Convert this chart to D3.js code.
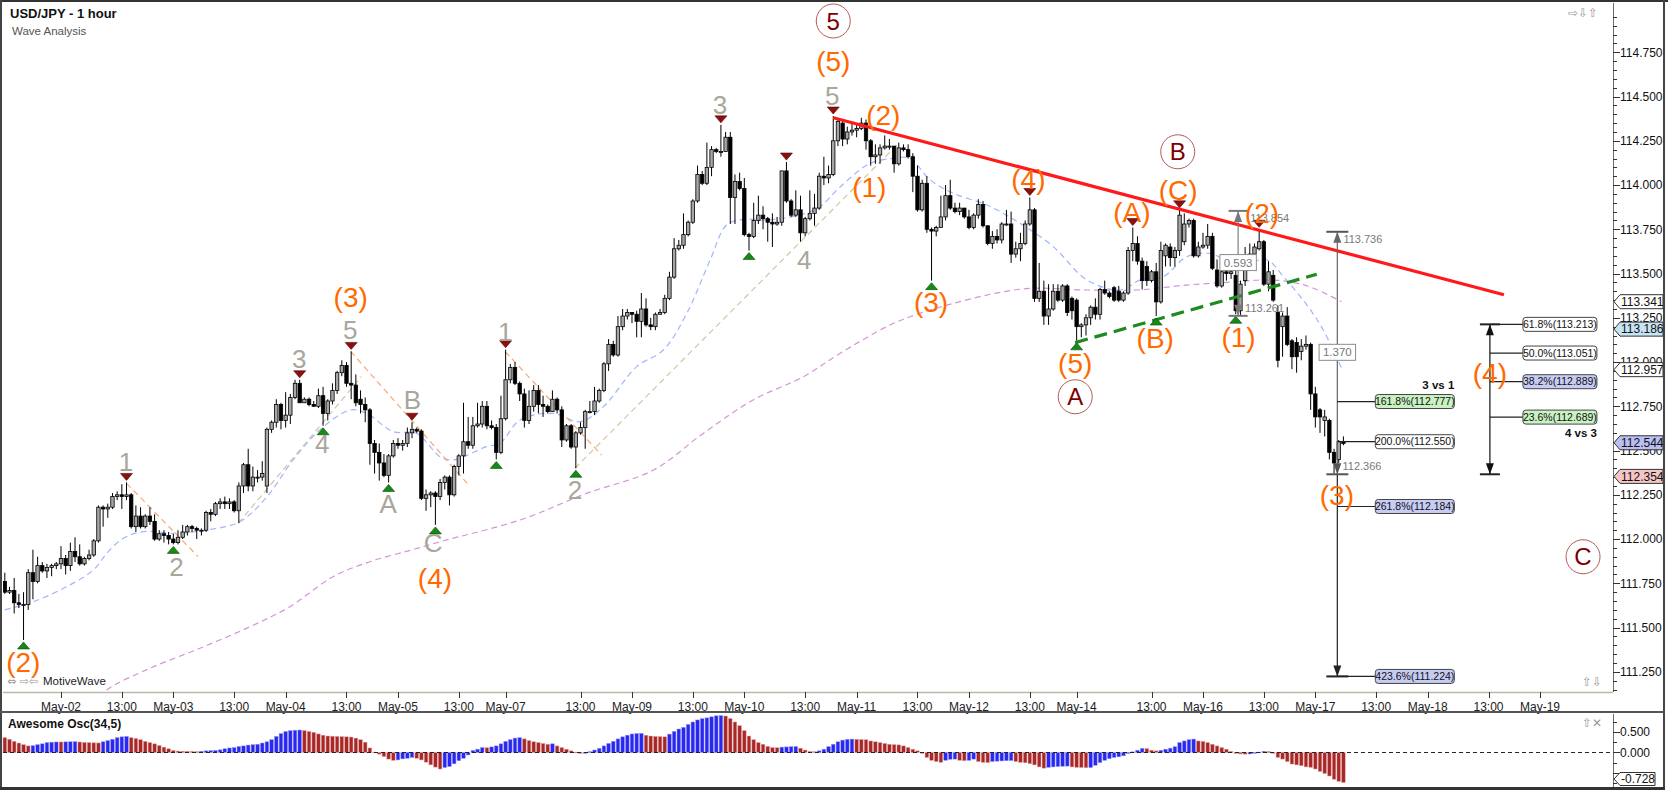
<!DOCTYPE html>
<html>
<head>
<meta charset="utf-8">
<script src="https://cdn.jsdelivr.net/npm/d3@7"></script>
<style>
body { margin: 0; background: #fff; }
svg { display: block; font-family: "Liberation Sans", Arial, sans-serif; }
</style>
</head>
<body>
<script>
/* hourly bars, index 0 = May-02 00:00, first bar is index -12 */
const firstBar = -12;
const opens = [
111.76,111.70,111.71,111.64,111.63,111.63,111.81,111.76,111.85,111.82,
111.84,111.85,111.86,111.89,111.85,111.93,111.90,111.86,111.89,111.91,
111.99,112.18,112.17,112.18,112.24,112.25,112.24,112.25,112.07,112.13,
112.07,112.13,112.10,112.00,112.03,112.02,112.00,111.98,112.01,112.04,
112.07,112.06,112.05,112.05,112.15,112.14,112.20,112.21,112.20,112.21,
112.16,112.30,112.42,112.30,112.35,112.35,112.30,112.62,112.66,112.76,
112.67,112.70,112.80,112.88,112.77,112.79,112.76,112.75,112.81,112.71,
112.78,112.84,112.94,112.98,112.88,112.87,112.79,112.76,112.73,112.54,
112.49,112.43,112.36,112.47,112.54,112.53,112.54,112.60,112.62,112.61,
112.23,112.25,112.26,112.24,112.32,112.35,112.25,112.41,112.47,112.55,
112.53,112.64,112.65,112.75,112.64,112.63,112.49,112.68,112.90,112.97,
112.88,112.82,112.67,112.75,112.84,112.76,112.75,112.72,112.79,112.73,
112.56,112.64,112.52,112.60,112.63,112.72,112.72,112.78,112.84,112.99,
113.10,113.04,113.20,113.26,113.28,113.27,113.23,113.30,113.21,113.20,
113.27,113.28,113.36,113.48,113.64,113.66,113.72,113.79,113.91,114.06,
114.01,114.10,114.20,114.19,114.19,114.27,113.93,114.02,113.98,113.72,
113.71,113.80,113.83,113.81,113.79,113.78,113.79,114.08,113.91,113.83,
113.86,113.73,113.81,113.84,113.87,114.05,114.04,114.06,114.25,114.35,
114.26,114.30,114.31,114.32,114.35,114.25,114.16,114.17,114.21,114.22,
114.22,114.12,114.21,114.20,114.16,114.05,113.86,114.01,113.75,113.74,
113.76,113.82,113.94,113.87,113.85,113.87,113.82,113.76,113.83,113.89,
113.77,113.67,113.71,113.69,113.78,113.78,113.61,113.64,113.67,113.78,
113.86,113.36,113.40,113.26,113.30,113.40,113.35,113.43,113.36,113.35,
113.20,113.21,113.25,113.31,113.27,113.41,113.39,113.42,113.40,113.35,
113.39,113.63,113.67,113.57,113.54,113.46,113.51,113.34,113.60,113.65,
113.59,113.63,113.68,113.78,113.80,113.60,113.65,113.66,113.71,113.52,
113.43,113.51,113.50,113.49,113.29,113.46,113.58,113.61,113.64,113.68,
113.44,113.49,113.28,113.20,113.26,113.12,113.11,113.06,113.09,113.10,
112.82,112.73,112.67,112.67,112.49,112.45,112.55];
const highs = [
111.81,111.73,111.78,111.69,111.70,111.83,111.94,111.90,111.87,111.86,
111.86,111.87,111.96,111.91,111.98,112.01,111.97,111.90,111.94,112.00,
112.19,112.19,112.20,112.26,112.27,112.31,112.32,112.26,112.19,112.18,
112.14,112.18,112.14,112.05,112.05,112.04,112.03,112.05,112.08,112.08,
112.08,112.07,112.06,112.16,112.17,112.21,112.23,112.24,112.23,112.22,
112.32,112.43,112.51,112.41,112.39,112.44,112.63,112.67,112.79,112.77,
112.83,112.82,112.90,112.90,112.80,112.80,112.78,112.85,112.86,112.79,
112.88,112.95,113.01,113.00,113.06,112.93,112.84,112.80,112.74,112.56,
112.54,112.48,112.48,112.56,112.57,112.56,112.63,112.66,112.63,112.62,
112.28,112.27,112.27,112.34,112.36,112.36,112.42,112.48,112.77,112.69,
112.69,112.77,112.78,112.78,112.67,112.65,112.81,113.07,112.99,113.00,
112.89,112.85,112.84,112.87,112.87,112.81,112.76,112.84,112.80,112.75,
112.65,112.65,112.61,112.66,112.73,112.78,112.86,112.85,113.00,113.13,
113.12,113.26,113.30,113.30,113.28,113.29,113.39,113.36,113.25,113.28,
113.30,113.38,113.51,113.70,113.69,113.84,113.80,113.92,114.11,114.08,
114.24,114.22,114.21,114.34,114.30,114.30,114.06,114.07,114.04,113.73,
113.90,113.94,113.88,113.82,113.84,113.82,114.08,114.13,113.92,113.97,
113.94,113.82,113.97,113.95,114.07,114.16,114.11,114.39,114.37,114.36,
114.33,114.35,114.35,114.38,114.37,114.26,114.23,114.23,114.28,114.26,
114.22,114.24,114.23,114.23,114.18,114.11,114.03,114.05,113.76,113.77,
113.94,114.00,114.03,113.90,113.90,113.87,113.86,113.84,113.92,113.91,
113.77,113.74,113.75,113.79,113.86,113.85,113.68,113.73,113.80,113.93,
113.87,113.56,113.46,113.44,113.44,113.44,113.44,113.44,113.37,113.36,
113.22,113.27,113.32,113.36,113.42,113.46,113.40,113.43,113.43,113.40,
113.65,113.76,113.71,113.59,113.57,113.52,113.56,113.68,113.67,113.67,
113.65,113.86,113.84,113.81,113.81,113.68,113.73,113.78,113.73,113.58,
113.52,113.58,113.55,113.58,113.46,113.65,113.67,113.67,113.75,113.69,
113.57,113.52,113.32,113.28,113.31,113.13,113.14,113.13,113.15,113.11,
112.86,112.74,112.73,112.68,112.51,112.56,112.58];
const lows = [
111.69,111.69,111.58,111.61,111.43,111.60,111.66,111.75,111.81,111.78,
111.79,111.83,111.83,111.80,111.82,111.87,111.85,111.85,111.88,111.90,
111.98,112.07,112.12,112.17,112.22,112.17,112.22,112.06,112.04,112.06,
112.06,112.08,111.99,111.99,111.98,111.97,111.97,111.97,112.00,112.02,
112.04,112.00,112.02,112.04,112.10,112.13,112.17,112.17,112.17,112.15,
112.09,112.26,112.27,112.27,112.32,112.33,112.26,112.60,112.63,112.62,
112.63,112.65,112.79,112.77,112.77,112.75,112.75,112.74,112.64,112.67,
112.76,112.82,112.92,112.86,112.79,112.75,112.71,112.66,112.42,112.37,
112.33,112.35,112.32,112.46,112.51,112.50,112.52,112.57,112.60,112.22,
112.16,112.18,112.08,112.22,112.28,112.19,112.24,112.36,112.37,112.51,
112.51,112.63,112.63,112.62,112.62,112.45,112.48,112.67,112.88,112.87,
112.78,112.63,112.65,112.72,112.71,112.69,112.71,112.72,112.71,112.52,
112.55,112.51,112.40,112.59,112.51,112.71,112.70,112.77,112.83,112.95,
113.03,113.03,113.18,113.24,113.22,113.14,113.14,113.20,113.18,113.18,
113.27,113.27,113.35,113.47,113.63,113.64,113.71,113.78,113.90,114.00,
114.00,114.05,114.18,114.16,114.19,113.78,113.78,113.97,113.71,113.63,
113.70,113.78,113.75,113.68,113.65,113.77,113.77,113.90,113.82,113.82,
113.68,113.71,113.80,113.77,113.86,114.00,114.01,114.05,114.22,114.22,
114.23,114.28,114.27,114.31,114.20,114.11,114.12,114.12,114.20,114.20,
114.07,114.11,114.19,114.15,113.96,113.85,113.85,113.73,113.46,113.71,
113.76,113.80,113.86,113.84,113.83,113.81,113.75,113.75,113.81,113.76,
113.66,113.64,113.67,113.67,113.77,113.56,113.59,113.57,113.66,113.77,
113.34,113.34,113.21,113.21,113.29,113.34,113.34,113.26,113.24,113.12,
113.14,113.15,113.21,113.24,113.24,113.38,113.36,113.34,113.34,113.34,
113.38,113.57,113.55,113.41,113.43,113.45,113.26,113.33,113.54,113.54,
113.54,113.60,113.66,113.76,113.59,113.59,113.64,113.64,113.52,113.42,
113.42,113.46,113.47,113.27,113.26,113.43,113.55,113.56,113.63,113.43,
113.40,113.34,112.97,113.03,113.09,112.96,112.94,113.01,113.07,112.73,
112.63,112.60,112.58,112.45,112.37,112.43,112.53];
const closes = [
111.70,111.71,111.64,111.63,111.63,111.81,111.76,111.85,111.82,111.84,
111.85,111.86,111.89,111.85,111.93,111.90,111.86,111.89,111.91,111.99,
112.18,112.17,112.18,112.24,112.25,112.24,112.25,112.07,112.13,112.07,
112.13,112.10,112.00,112.03,112.02,112.00,111.98,112.01,112.04,112.07,
112.06,112.05,112.05,112.15,112.14,112.20,112.21,112.20,112.21,112.16,
112.30,112.42,112.30,112.35,112.35,112.37,112.62,112.66,112.76,112.67,
112.70,112.80,112.88,112.77,112.79,112.76,112.75,112.81,112.71,112.78,
112.84,112.94,112.98,112.88,112.87,112.77,112.76,112.73,112.54,112.49,
112.43,112.36,112.47,112.54,112.53,112.54,112.60,112.62,112.61,112.23,
112.25,112.26,112.24,112.32,112.35,112.25,112.41,112.47,112.55,112.53,
112.64,112.65,112.75,112.64,112.63,112.49,112.68,112.90,112.97,112.88,
112.82,112.67,112.75,112.84,112.76,112.75,112.72,112.79,112.73,112.56,
112.64,112.52,112.60,112.63,112.72,112.72,112.78,112.84,112.99,113.10,
113.04,113.20,113.26,113.28,113.27,113.23,113.30,113.21,113.20,113.27,
113.28,113.36,113.48,113.64,113.66,113.72,113.79,113.91,114.06,114.01,
114.10,114.20,114.19,114.19,114.27,113.93,114.02,113.98,113.72,113.71,
113.80,113.83,113.81,113.79,113.78,113.79,114.08,113.91,113.83,113.86,
113.73,113.81,113.84,113.87,114.05,114.04,114.06,114.25,114.36,114.26,
114.30,114.31,114.32,114.35,114.25,114.16,114.17,114.21,114.22,114.22,
114.12,114.21,114.20,114.16,114.05,113.86,114.01,113.75,113.74,113.76,
113.82,113.94,113.87,113.85,113.87,113.82,113.76,113.83,113.89,113.77,
113.67,113.71,113.69,113.78,113.78,113.61,113.64,113.67,113.78,113.86,
113.36,113.40,113.26,113.30,113.40,113.35,113.43,113.28,113.29,113.20,
113.21,113.25,113.31,113.27,113.41,113.39,113.37,113.35,113.35,113.39,
113.63,113.67,113.57,113.46,113.46,113.51,113.34,113.63,113.66,113.59,
113.63,113.83,113.78,113.80,113.60,113.65,113.66,113.71,113.53,113.43,
113.51,113.50,113.51,113.29,113.44,113.58,113.61,113.65,113.68,113.44,
113.51,113.35,113.01,113.26,113.10,113.03,113.03,113.09,113.10,112.82,
112.69,112.69,112.69,112.49,112.43,112.55,112.54];

/* Awesome Oscillator(34,5), one value per bar */
const aoValues = [
0.36,0.32,0.27,0.23,0.19,0.16,0.165,0.19,0.21,0.24,
0.25,0.255,0.255,0.258,0.26,0.262,0.255,0.245,0.24,0.235,
0.232,0.26,0.29,0.32,0.36,0.38,0.39,0.36,0.34,0.31,
0.27,0.24,0.21,0.17,0.13,0.09,0.05,0.035,0.03,0.028,
0.025,0.022,0.03,0.04,0.045,0.05,0.065,0.09,0.11,0.12,
0.145,0.16,0.18,0.19,0.20,0.23,0.26,0.31,0.39,0.46,
0.51,0.53,0.54,0.545,0.53,0.51,0.49,0.45,0.42,0.40,
0.395,0.39,0.385,0.38,0.375,0.35,0.31,0.25,0.11,0.01,
-0.04,-0.10,-0.16,-0.19,-0.18,-0.155,-0.14,-0.12,-0.14,-0.18,
-0.235,-0.30,-0.355,-0.40,-0.365,-0.34,-0.275,-0.20,-0.14,-0.06,
0.05,0.08,0.12,0.115,0.135,0.16,0.21,0.27,0.31,0.35,
0.36,0.33,0.29,0.26,0.24,0.22,0.20,0.21,0.16,0.12,
0.08,0.04,0.01,-0.02,0.0,0.02,0.06,0.10,0.16,0.22,
0.27,0.33,0.38,0.42,0.45,0.46,0.465,0.42,0.40,0.39,
0.385,0.38,0.445,0.51,0.57,0.61,0.68,0.74,0.79,0.82,
0.84,0.865,0.89,0.895,0.885,0.825,0.74,0.65,0.53,0.40,
0.31,0.24,0.20,0.15,0.12,0.115,0.13,0.135,0.14,0.145,
0.105,0.06,0.025,0.02,0.04,0.08,0.14,0.20,0.26,0.30,
0.32,0.325,0.32,0.315,0.31,0.28,0.26,0.24,0.22,0.20,
0.19,0.185,0.16,0.12,0.08,0.04,0.0,-0.12,-0.19,-0.22,
-0.24,-0.19,-0.165,-0.16,-0.19,-0.20,-0.19,-0.16,-0.22,-0.24,
-0.245,-0.22,-0.21,-0.205,-0.20,-0.195,-0.22,-0.24,-0.25,-0.27,
-0.30,-0.35,-0.38,-0.36,-0.35,-0.34,-0.335,-0.33,-0.35,-0.36,
-0.365,-0.37,-0.365,-0.31,-0.245,-0.19,-0.15,-0.12,-0.105,-0.08,
-0.025,0.015,0.055,0.10,0.095,0.055,0.04,0.055,0.08,0.105,
0.14,0.24,0.28,0.31,0.325,0.28,0.27,0.24,0.20,0.16,
0.12,0.08,0.025,-0.02,-0.035,-0.04,-0.035,-0.02,0.01,0.03,
0.025,-0.015,-0.12,-0.16,-0.22,-0.28,-0.30,-0.32,-0.35,-0.36,
-0.40,-0.46,-0.51,-0.57,-0.65,-0.70,-0.728];

/* moving averages: [bar, price] */
const fastMA = [[-12,111.60],[-5.9,111.646],[1.2,111.731],[6.9,111.825],[9.8,111.92],[13.3,112.004],[17.6,112.042],[24,112.033],[31.1,112.051],[38.2,112.098],[44,112.239],[49.6,112.447],[55.3,112.616],[61.8,112.729],[65.3,112.71],[71,112.607],[76,112.597],[81,112.465],[83.8,112.447],[90.9,112.522],[93.8,112.541],[98.1,112.673],[105.2,112.71],[110.9,112.663],[115.9,112.748],[123,112.974],[128.7,113.068],[133.7,113.275],[138.7,113.577],[142.2,113.774],[145.8,113.806],[151.5,113.803],[158.6,113.836],[162.2,113.878],[166.5,113.99],[172.9,114.123],[177.8,114.151],[181.4,114.151],[185.7,114.029],[190.7,113.953],[197.8,113.887],[204.9,113.784],[212,113.652],[219.2,113.464],[226.3,113.407],[230.6,113.464],[235.5,113.482],[240.5,113.595],[245.5,113.614],[251.2,113.548],[257.6,113.577],[261.2,113.482],[266.2,113.322],[269.7,113.181],[273.6,112.965]];
const slowMA = [[8.5,111.10],[9.8,111.147],[19,111.27],[29.7,111.383],[40.4,111.505],[48.9,111.618],[58.1,111.787],[66,111.872],[74.6,111.936],[81,111.985],[98.1,112.108],[112.3,112.258],[126.6,112.39],[137.2,112.597],[147.9,112.786],[158.6,112.917],[166.5,113.05],[176.4,113.2],[181.4,113.256],[190.7,113.332],[201.3,113.397],[207.8,113.417],[219.2,113.407],[229.8,113.407],[240.5,113.435],[251.2,113.454],[256.9,113.464],[262.6,113.454],[267.6,113.417],[273.6,113.341]];

/* drawn lines: [bar, price] end points */
const resistanceLine = [[165,114.38],[308.3,113.38]];
const supportLine = [[216.7,113.11],[268.3,113.496]];
const orangeGuides = [[[14,112.315],[29.3,111.901]],[[61.9,113.06],[87.1,112.305]],[[94.9,113.059],[115.5,112.475]]];
const khakiGuides = [[[37.9,112.09],[64.2,112.918]],[[109.8,112.40],[178.6,114.226]]];

/* swing markers */
const swingHighBars = [14,51,62,75,95,141,155,165,207,229,239,256];
const swingLowBars = [-8,24,56,70,80,93,110,147,186,217,234,251];

/* wave labels */
const intermText = ['(2)','(3)','(4)','(5)','(2)','(1)','(3)','(4)','(5)','(A)','(B)','(C)','(2)','(1)','(3)','(4)'];
const intermBar = [-8.05,61.9,79.9,165,175.7,172.7,185.9,206.7,216.7,228.8,233.8,238.7,256.6,251.6,272.6,305.3];
const intermPrice = [111.307,113.369,111.78,114.70,114.396,113.99,113.341,114.032,112.993,113.849,113.134,113.972,113.84,113.143,112.249,112.938];
const minorText = ['1','2','3','4','5','A','B','C','1','2','3','4','5'];
const minorBar = [13.9,24.7,50.9,55.8,61.8,69.9,75.1,79.5,94.9,109.8,140.8,158.8,164.8];
const minorPrice = [112.437,111.844,113.021,112.541,113.181,112.202,112.786,111.978,113.171,112.277,114.452,113.58,114.503];
const primaryText = ['5','B','A','C'];
const primaryBar = [165,238.6,216.7,325.2];
const primaryPrice = [114.927,114.188,112.804,111.90];

/* fibonacci projections */
const fib31Ratios = ['161.8%','200.0%','261.8%','423.6%'];
const fib31Values = [112.777,112.550,112.184,111.224];
const fib43Ratios = ['61.8%','50.0%','38.2%','23.6%'];
const fib43Values = [113.213,113.051,112.889,112.689];

/* price tags on the right scale */
const tagValues = [113.341,113.186,112.957,112.544,112.354];

/* time axis */
const tickBars = [0,13,24,37,48,61,72,85,95,111,122,135,146,159,170,183,194,207,217,233,244,257,268,281,292,305,316];
const tickLabels = ['May-02','13:00','May-03','13:00','May-04','13:00','May-05','13:00','May-07','13:00','May-09','13:00','May-10','13:00','May-11','13:00','May-12','13:00','May-14','13:00','May-16','13:00','May-17','13:00','May-18','13:00','May-19'];

/* ---------- canvas ---------- */
const width = 1668, height = 790;
const plot = { left: 3, right: 1613, top: 3, bottom: 692 };
const osc = { top: 714, bottom: 787 };

const svg = d3.select('body').append('svg').attr('width', width).attr('height', height);
svg.append('rect').attr('width', width).attr('height', height).attr('fill', '#fff');

const x = d3.scaleLinear().domain([-12.39, 331.6]).range([plot.left, plot.right]);
const y = d3.scaleLinear().domain([111.136, 115.0285]).range([plot.bottom, plot.top]);
const yAO = d3.scaleLinear().domain([-0.837, 0.934]).range([osc.bottom, osc.top]);

const defs = svg.append('defs');
defs.append('clipPath').attr('id', 'plotClip').append('rect')
  .attr('x', plot.left).attr('y', plot.top).attr('width', plot.right - plot.left).attr('height', plot.bottom - plot.top);

const candles = closes.map((c, k) => ({ bar: firstBar + k, o: opens[k], h: highs[k], l: lows[k], c: c }));

const main = svg.append('g').attr('clip-path', 'url(#plotClip)');
const line = d3.line().x(d => x(d[0])).y(d => y(d[1]));
const smooth = d3.line().x(d => x(d[0])).y(d => y(d[1])).curve(d3.curveCatmullRom.alpha(0.5));

/* moving averages */
main.append('path').datum(slowMA).attr('d', smooth).attr('fill', 'none')
  .attr('stroke', '#d394d6').attr('stroke-width', 1.2).attr('stroke-dasharray', '6,4');
main.append('path').datum(fastMA).attr('d', smooth).attr('fill', 'none')
  .attr('stroke', '#9fb6ff').attr('stroke-width', 1.2).attr('stroke-dasharray', '6,4');

/* thin guide lines */
main.selectAll('.og').data(orangeGuides).join('path').attr('d', line).attr('fill', 'none')
  .attr('stroke', '#f7a878').attr('stroke-width', 1.2).attr('stroke-dasharray', '6,4');
main.selectAll('.kg').data(khakiGuides).join('path').attr('d', line).attr('fill', 'none')
  .attr('stroke', '#cdc9a2').attr('stroke-width', 1.2).attr('stroke-dasharray', '6,4');

/* candles */
main.selectAll('.wick').data(candles).join('line')
  .attr('x1', d => x(d.bar)).attr('x2', d => x(d.bar))
  .attr('y1', d => y(d.h)).attr('y2', d => y(d.l))
  .attr('stroke', '#000').attr('stroke-width', 1);
main.selectAll('.body').data(candles).join('rect')
  .attr('x', d => x(d.bar) - 1.7).attr('width', 3.4)
  .attr('y', d => y(Math.max(d.o, d.c)))
  .attr('height', d => Math.max(1, Math.abs(y(d.o) - y(d.c))))
  .attr('fill', d => d.c >= d.o ? '#a6a6a6' : '#000')
  .attr('stroke', '#000').attr('stroke-width', 0.8);

/* trend lines */
main.append('path').datum(supportLine).attr('d', line).attr('fill', 'none')
  .attr('stroke', '#1f8a1f').attr('stroke-width', 3.2).attr('stroke-dasharray', '13,7');
main.append('path').datum(resistanceLine).attr('d', line).attr('fill', 'none')
  .attr('stroke', '#ff1a1a').attr('stroke-width', 3.2);

/* swing markers */
const byBar = new Map(candles.map(d => [d.bar, d]));
main.selectAll('.hi').data(swingHighBars).join('path')
  .attr('d', b => { const cx = x(b), t = y(byBar.get(b).h) - 2; return `M${cx - 6},${t - 7}L${cx + 6},${t - 7}L${cx},${t}Z`; })
  .attr('fill', '#8b1010').attr('stroke', '#5a0000').attr('stroke-width', 0.6);
main.selectAll('.lo').data(swingLowBars).join('path')
  .attr('d', b => { const cx = x(b), t = y(byBar.get(b).l) + 2; return `M${cx - 6},${t + 7}L${cx + 6},${t + 7}L${cx},${t}Z`; })
  .attr('fill', '#168a16').attr('stroke', '#0a4a0a').attr('stroke-width', 0.6);

/* ---------- measurement tools ---------- */
const ann = svg.append('g');
function bar(g, b, p, w, col) {
  g.append('line').attr('x1', x(b) - w / 2).attr('x2', x(b) + w / 2).attr('y1', y(p)).attr('y2', y(p))
    .attr('stroke', col).attr('stroke-width', 2);
}
function arrow(g, b, p, up, col) {
  const cx = x(b), t = y(p);
  const d = up ? `M${cx - 4},${t + 11}L${cx + 4},${t + 11}L${cx},${t}Z` : `M${cx - 4},${t - 11}L${cx + 4},${t - 11}L${cx},${t}Z`;
  g.append('path').attr('d', d).attr('fill', col);
}
function vline(g, b, p1, p2, col) {
  g.append('line').attr('x1', x(b)).attr('x2', x(b)).attr('y1', y(p1)).attr('y2', y(p2)).attr('stroke', col).attr('stroke-width', 1.2);
}
function smallText(g, b, p, txt, anchor) {
  g.append('text').attr('x', x(b)).attr('y', y(p)).attr('dy', '0.35em').attr('text-anchor', anchor || 'start')
    .attr('font-size', 11).attr('fill', '#7a7a7a').text(txt);
}
function boxText(g, b, p, txt) {
  const cx = x(b), cy = y(p);
  const w = txt.length * 6.1 + 6;
  g.append('rect').attr('x', cx - w / 2).attr('y', cy - 8).attr('width', w).attr('height', 16)
    .attr('fill', '#fff').attr('stroke', '#8c8c8c').attr('stroke-width', 1);
  g.append('text').attr('x', cx).attr('y', cy).attr('dy', '0.35em').attr('text-anchor', 'middle')
    .attr('font-size', 11.5).attr('fill', '#777').text(txt);
}

/* wave (1) to (2) retrace measure */
const mA = 251.5;
vline(ann, mA, 113.854, 113.261, '#808080');
bar(ann, mA, 113.854, 19, '#777'); bar(ann, mA, 113.261, 19, '#777');
arrow(ann, mA, 113.854, true, '#777'); arrow(ann, mA, 113.261, false, '#777');
smallText(ann, 254.1, 113.812, '113.854');
smallText(ann, 253.0, 113.307, '113.261');
boxText(ann, mA, 113.562, '0.593');

/* wave 3 vs 1 projection */
const mB = 272.7;
vline(ann, mB, 113.736, 112.366, '#666');
vline(ann, mB, 112.366, 111.224, '#222');
bar(ann, mB, 113.736, 22, '#555'); bar(ann, mB, 112.366, 22, '#555'); bar(ann, mB, 111.224, 22, '#222');
arrow(ann, mB, 113.736, true, '#666'); arrow(ann, mB, 112.366, false, '#555'); arrow(ann, mB, 111.224, false, '#222');
smallText(ann, 274.0, 113.694, '113.736');
smallText(ann, 273.8, 112.414, '112.366');
boxText(ann, mB, 113.055, '1.370');

const fibFill = { '161.8%': '#c9f2c2', '200.0%': '#ffffff', '261.8%': '#c7ccf5', '423.6%': '#c7ccf5',
                  '61.8%': '#ffffff', '50.0%': '#ffffff', '38.2%': '#c7ccf5', '23.6%': '#c9f2c2' };
function fibLevels(g, b, ratios, values, gap, boxW) {
  ratios.forEach((r, k) => {
    const yy = y(values[k]), x0 = x(b), bx = x0 + gap;
    g.append('line').attr('x1', x0).attr('x2', bx).attr('y1', yy).attr('y2', yy).attr('stroke', '#222').attr('stroke-width', 1.2);
    g.append('rect').attr('x', bx).attr('y', yy - 7).attr('width', boxW).attr('height', 14).attr('rx', 3)
      .attr('fill', fibFill[r]).attr('stroke', '#444').attr('stroke-width', 1);
    g.append('text').attr('x', bx + boxW / 2).attr('y', yy).attr('dy', '0.36em').attr('text-anchor', 'middle')
      .attr('font-size', 10.5).attr('fill', '#111').text(`${r}(${values[k].toFixed(3)})`);
  });
}
fibLevels(ann, mB, fib31Ratios, fib31Values, 38, 79);
ann.append('text').attr('x', x(mB) + 38 + 79).attr('y', y(fib31Values[0]) - 17).attr('dy', '0.35em')
  .attr('text-anchor', 'end').attr('font-size', 11.5).attr('font-weight', 'bold').attr('fill', '#111').text('3 vs 1');

const mC = 305.3;
vline(ann, mC, 113.213, 112.366, '#111');
bar(ann, mC, 113.213, 20, '#222'); bar(ann, mC, 112.366, 20, '#222');
arrow(ann, mC, 113.213, true, '#111'); arrow(ann, mC, 112.366, false, '#111');
fibLevels(ann, mC, fib43Ratios, fib43Values, 33, 74);
ann.append('text').attr('x', x(mC) + 33 + 74).attr('y', y(fib43Values[3]) + 16).attr('dy', '0.35em')
  .attr('text-anchor', 'end').attr('font-size', 11.5).attr('font-weight', 'bold').attr('fill', '#111').text('4 vs 3');

/* ---------- wave labels ---------- */
const lab = svg.append('g');
lab.selectAll('.minor').data(minorText).join('text')
  .attr('x', (t, k) => x(minorBar[k])).attr('y', (t, k) => y(minorPrice[k])).attr('dy', '0.36em')
  .attr('text-anchor', 'middle').attr('font-size', 26).attr('fill', '#a9a69b').text(t => t);
lab.selectAll('.interm').data(intermText).join('text')
  .attr('x', (t, k) => x(intermBar[k])).attr('y', (t, k) => y(intermPrice[k])).attr('dy', '0.36em')
  .attr('text-anchor', 'middle').attr('font-size', 28).attr('fill', '#ff6a00').text(t => t);
const prim = lab.selectAll('.prim').data(primaryText).join('g')
  .attr('transform', (t, k) => `translate(${x(primaryBar[k])},${y(primaryPrice[k])})`);
prim.append('circle').attr('r', 17).attr('fill', 'none').attr('stroke', '#b55a5a').attr('stroke-width', 1);
prim.append('text').attr('dy', '0.36em').attr('text-anchor', 'middle').attr('font-size', 24)
  .attr('fill', '#7d0000').text(t => t);

/* ---------- frame and axes ---------- */
const frame = svg.append('g');
frame.append('line').attr('x1', plot.left).attr('x2', plot.right).attr('y1', plot.bottom + 0.5).attr('y2', plot.bottom + 0.5)
  .attr('stroke', '#b9b9a8').attr('stroke-width', 1.5);
frame.append('line').attr('x1', plot.right + 0.5).attr('x2', plot.right + 0.5).attr('y1', plot.top).attr('y2', plot.bottom)
  .attr('stroke', '#6b6b60').attr('stroke-width', 1);
frame.append('line').attr('x1', plot.right + 0.5).attr('x2', plot.right + 0.5).attr('y1', osc.top).attr('y2', osc.bottom)
  .attr('stroke', '#6b6b60').attr('stroke-width', 1);

/* price scale */
const minorTicks = d3.range(111.15, 115.0, 0.05).map(v => Math.round(v * 100) / 100);
frame.selectAll('.pt').data(minorTicks).join('line')
  .attr('x1', plot.right).attr('x2', d => plot.right + (Math.abs(d * 4 - Math.round(d * 4)) < 1e-6 ? 7 : 4))
  .attr('y1', d => Math.round(y(d)) + 0.5).attr('y2', d => Math.round(y(d)) + 0.5)
  .attr('stroke', '#333').attr('stroke-width', 1);
const majorTicks = d3.range(111.25, 114.76, 0.25);
frame.selectAll('.pl').data(majorTicks).join('text')
  .attr('x', plot.right + 7).attr('y', d => y(d)).attr('dy', '0.36em')
  .attr('font-size', 12).attr('fill', '#111').text(d => d.toFixed(3));

/* price tags */
const tagFill = ['#ffffff', '#c6e4f4', '#ffffff', '#b9bff4', '#f6c6c6'];
tagValues.forEach((v, k) => {
  const yy = y(v), x0 = plot.right + 1;
  frame.append('path').attr('d', `M${x0},${yy}L${x0 + 6},${yy - 7}L${x0 + 49},${yy - 7}L${x0 + 49},${yy + 7}L${x0 + 6},${yy + 7}Z`)
    .attr('fill', tagFill[k]).attr('stroke', '#333').attr('stroke-width', 1);
  frame.append('text').attr('x', x0 + 7).attr('y', yy).attr('dy', '0.36em').attr('font-size', 12).attr('fill', '#111').text(v.toFixed(3));
});

/* time scale */
frame.selectAll('.tt').data(tickBars).join('line')
  .attr('x1', d => Math.round(x(d)) + 0.5).attr('x2', d => Math.round(x(d)) + 0.5)
  .attr('y1', plot.bottom).attr('y2', plot.bottom + 6).attr('stroke', '#333');
frame.selectAll('.tl').data(tickLabels).join('text')
  .attr('x', (t, k) => x(tickBars[k])).attr('y', plot.bottom + 15).attr('dy', '0.36em')
  .attr('text-anchor', 'middle').attr('font-size', 12).attr('fill', '#222').text(t => t);

/* ---------- oscillator ---------- */
const oscG = svg.append('g');
const aoBars = aoValues.map((v, k) => ({ bar: firstBar + k, v: v, up: k > 0 && v > aoValues[k - 1] }));
oscG.selectAll('.ao').data(aoBars).join('rect')
  .attr('x', d => x(d.bar) - 1.8).attr('width', 3.6)
  .attr('y', d => yAO(Math.max(0, d.v))).attr('height', d => Math.max(0.8, Math.abs(yAO(d.v) - yAO(0))))
  .attr('fill', d => d.up ? '#2828f0' : '#a82828')
  .attr('stroke', d => d.up ? '#8f8ff8' : '#e0a0a0').attr('stroke-width', 0.5);
oscG.append('line').attr('x1', plot.left).attr('x2', plot.right).attr('y1', yAO(0)).attr('y2', yAO(0))
  .attr('stroke', '#222').attr('stroke-width', 1).attr('stroke-dasharray', '4,3');
const aoTicks = [0.75, 0.5, 0.25, 0, -0.25, -0.5, -0.75];
oscG.selectAll('.at').data(aoTicks).join('line')
  .attr('x1', plot.right).attr('x2', d => plot.right + (d % 0.5 === 0 ? 7 : 4))
  .attr('y1', d => Math.round(yAO(d)) + 0.5).attr('y2', d => Math.round(yAO(d)) + 0.5).attr('stroke', '#333');
oscG.selectAll('.al').data([0.5, 0]).join('text')
  .attr('x', plot.right + 7).attr('y', d => yAO(d)).attr('dy', '0.36em')
  .attr('font-size', 12).attr('fill', '#111').text(d => d.toFixed(3));
const lastAO = aoValues[aoValues.length - 1];
const tagY = Math.min(yAO(lastAO), osc.bottom - 8);
oscG.append('path').attr('d', `M${plot.right + 1},${tagY}L${plot.right + 7},${tagY - 6.5}L${plot.right + 42},${tagY - 6.5}L${plot.right + 42},${tagY + 6.5}L${plot.right + 7},${tagY + 6.5}Z`)
  .attr('fill', '#fff').attr('stroke', '#333');
oscG.append('text').attr('x', plot.right + 8).attr('y', tagY).attr('dy', '0.36em').attr('font-size', 12).attr('fill', '#111').text(lastAO.toFixed(3));
oscG.append('text').attr('x', 8).attr('y', 724).attr('dy', '0.36em').attr('font-size', 12).attr('font-weight', 'bold')
  .attr('fill', '#111').text('Awesome Osc(34,5)');

/* titles and small widgets */
svg.append('text').attr('x', 10).attr('y', 18).attr('font-size', 13).attr('font-weight', 'bold').attr('fill', '#111').text('USD/JPY - 1 hour');
svg.append('text').attr('x', 12).attr('y', 35).attr('font-size', 11.5).attr('fill', '#555').text('Wave Analysis');
svg.append('text').attr('x', 43).attr('y', 685).attr('font-size', 11.5).attr('fill', '#222').text('MotiveWave');
svg.append('text').attr('x', 7).attr('y', 685).attr('font-family', 'DejaVu Sans').attr('font-size', 11).attr('fill', '#999').text('\u21D4 \u21E8\u21E6');
svg.append('text').attr('x', 1568).attr('y', 17).attr('font-family', 'DejaVu Sans').attr('font-size', 12).attr('fill', '#999').text('\u21E8\u21E9\u21E7');
svg.append('text').attr('x', 1582).attr('y', 686).attr('font-family', 'DejaVu Sans').attr('font-size', 12).attr('fill', '#999').text('\u21E7\u21E9');
svg.append('text').attr('x', 1582).attr('y', 727).attr('font-family', 'DejaVu Sans').attr('font-size', 12).attr('fill', '#999').text('\u21E7\u2715');

/* window borders */
svg.append('rect').attr('x', 0).attr('y', 0).attr('width', width).attr('height', 2).attr('fill', '#333');
svg.append('rect').attr('x', 0).attr('y', 0).attr('width', 2).attr('height', height).attr('fill', '#444');
svg.append('rect').attr('x', 1663).attr('y', 0).attr('width', 2).attr('height', height).attr('fill', '#444');
svg.append('rect').attr('x', 0).attr('y', 711).attr('width', 1665).attr('height', 2).attr('fill', '#555');
svg.append('rect').attr('x', 0).attr('y', 787).attr('width', 1665).attr('height', 3).attr('fill', '#333');
</script>
</body>
</html>
